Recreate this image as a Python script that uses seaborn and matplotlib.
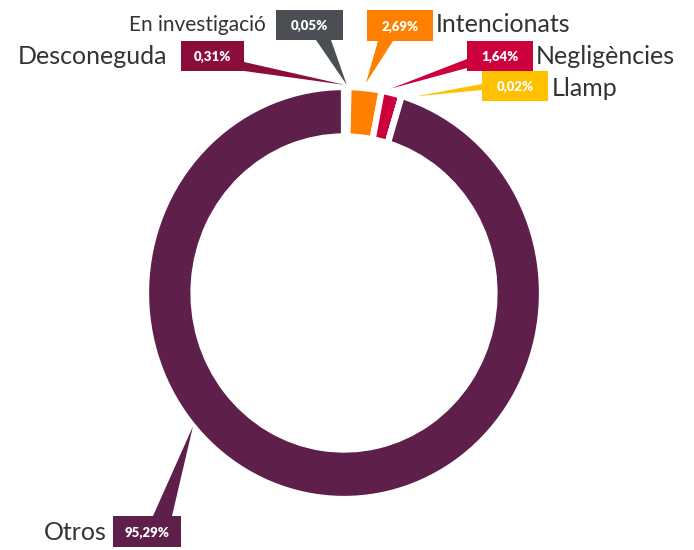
import numpy as np
import matplotlib
matplotlib.use("Agg")
import matplotlib.pyplot as plt
from matplotlib.patches import Rectangle, Polygon
import seaborn as sns

# ---- data ----
categories = ["Desconeguda", "En investigació", "Intencionats", "Negligències", "Llamp", "Otros"]
values = [0.31, 0.05, 2.69, 1.64, 0.02, 95.29]
value_labels = ["0,31%", "0,05%", "2,69%", "1,64%", "0,02%", "95,29%"]
colors = ["#8B0D3B", "#4B4F54", "#FF8000", "#CC003D", "#FFC000", "#5F1F4B"]

sns.set_theme(style="white")
plt.rcParams["font.family"] = ["Lato", "DejaVu Sans"]

W, H = 694, 550
fig = plt.figure(figsize=(W / 100, H / 100), dpi=100)

# ring geometry (pixels)
cx, cy, rx, ry = 344, 293, 198, 206
ax_ring = fig.add_axes([(cx - rx) / W, (H - cy - ry) / H, 2 * rx / W, 2 * ry / H])
ax_ring.pie(values, colors=colors, startangle=90, counterclock=False, radius=1.0,
            wedgeprops=dict(width=0.24, edgecolor="white", linewidth=4.5))
ax_ring.set_xlim(-1, 1)
ax_ring.set_ylim(-1, 1)
ax_ring.set_aspect("auto")
ax_ring.axis("off")

# overlay for callouts, pixel coordinates
ax = fig.add_axes([0, 0, 1, 1])
ax.set_xlim(0, W)
ax.set_ylim(H, 0)
ax.axis("off")
ax.patch.set_alpha(0)

boxes = [(181, 41, 63, 30), (276, 10, 67, 30), (367, 10, 66, 31),
         (467, 41, 66, 30), (482, 71, 66, 30), (113, 516, 68, 31)]
bases = [((244, 62), (244, 71)), ((316, 40), (331, 40)), ((378, 41), (393, 41)),
         ((467, 59), (467, 68)), ((482, 84), (482, 90)), ((153, 516), (172, 516))]
tip_angles = [0.3, 0.8, 6.2, 13.4, 20.7, 229.7]
tip_r = [1.01, 1.01, 1.025, 1.02, 1.02, 1.0]
label_pos = [(167, 56, "right"), (266, 25, "right"), (436, 25, "left"),
             (536, 57, "left"), (552, 88, "left"), (107, 532, "right")]
label_size = [18, 15, 18, 18, 18, 18]

for i, cat in enumerate(categories):
    a = np.deg2rad(tip_angles[i])
    tx = cx + rx * tip_r[i] * np.sin(a)
    ty = cy - ry * tip_r[i] * np.cos(a)
    (b1, b2) = bases[i]
    ax.add_patch(Polygon([b1, b2, (tx, ty)], closed=True, facecolor=colors[i],
                         edgecolor="none", zorder=3))
    x0, y0, bw, bh = boxes[i]
    ax.add_patch(Rectangle((x0, y0), bw, bh, facecolor=colors[i], edgecolor="none", zorder=4))
    ax.text(x0 + bw / 2, y0 + bh / 2 + 1, value_labels[i], color="white", fontsize=9.5,
            fontweight="heavy", ha="center", va="center", zorder=5)
    lx, ly, ha = label_pos[i]
    ax.text(lx, ly, cat, color="#333333", fontsize=label_size[i], fontweight="normal",
            ha=ha, va="center", zorder=5)

fig.savefig("out.png", dpi=100)
